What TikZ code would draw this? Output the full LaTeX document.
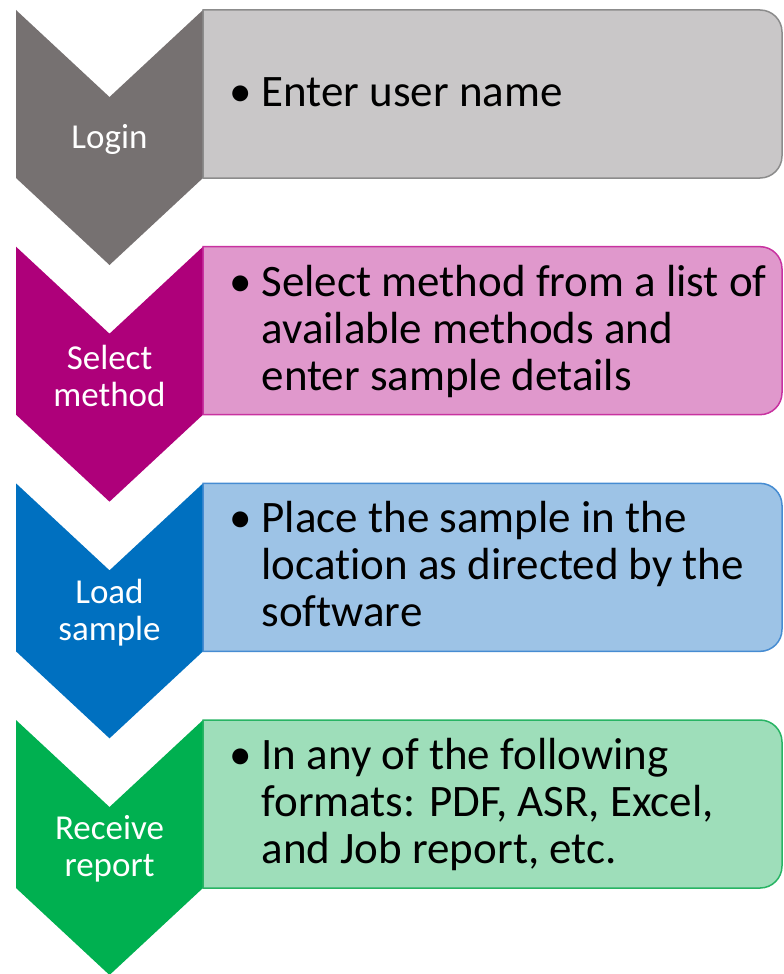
\documentclass[tikz,border=0pt]{standalone}
\usepackage{fontspec}
\setmainfont[Ligatures=NoCommon]{Carlito}
\definecolor{loginD}{RGB}{118,113,113}
\definecolor{loginL}{RGB}{201,199,200}
\definecolor{loginE}{RGB}{140,140,140}
\definecolor{methodD}{RGB}{174,0,122}
\definecolor{methodL}{RGB}{224,152,204}
\definecolor{methodE}{RGB}{200,50,160}
\definecolor{loadD}{RGB}{0,112,192}
\definecolor{loadL}{RGB}{157,195,230}
\definecolor{loadE}{RGB}{70,140,210}
\definecolor{reportD}{RGB}{0,176,80}
\definecolor{reportL}{RGB}{158,222,186}
\definecolor{reportE}{RGB}{40,180,100}
\tikzset{
  steplabel/.style={text=white,align=center,font=\fontsize{35}{37}\selectfont},
  bullettext/.style={anchor=west,inner sep=0pt,font=\fontsize{45}{47}\selectfont}
}
\begin{document}
\begin{tikzpicture}[x=1pt,y=1pt]
    \useasboundingbox (0,0) rectangle (784,-974);
    \foreach \i/\c/\lab/\txt in {%
      0/login/Login/{Enter user name},
      1/method/{Select\\method}/{Select method from a list of\\&available methods and\\&enter sample details},
      2/load/{Load\\sample}/{Place the sample in the\\&location as directed by the\\&software},
      3/report/{Receive\\report}/{In any of the following\\&formats: PDF, ASR, Excel,\\&and Job report, etc.}}
    {
      \pgfmathsetmacro\t{-10-236.67*\i}
      % chevron
      \fill[\c D] (16,\t) -- ++(93.5,-87) -- ++(93.5,87) -- ++(0,-168)
        -- ++(-93.5,-87) -- ++(-93.5,87) -- cycle;
      \node[steplabel] (chev\i) at (109.5,\t-129) {\lab};
      % text box, rounded on the right only
      \filldraw[fill=\c L,draw=\c E,line width=1.5pt] (203,\t) -- (760,\t)
        arc[start angle=90,end angle=0,radius=22] -- (782,\t-146)
        arc[start angle=0,end angle=-90,radius=22] -- (203,\t-168) -- cycle;
      \node[bullettext] (box\i) at (229,\t-87)
        {\begin{tabular}{@{}l@{\hspace{10pt}}l@{}}\textbullet & \txt\end{tabular}};
    }
  \end{tikzpicture}
\end{document}
